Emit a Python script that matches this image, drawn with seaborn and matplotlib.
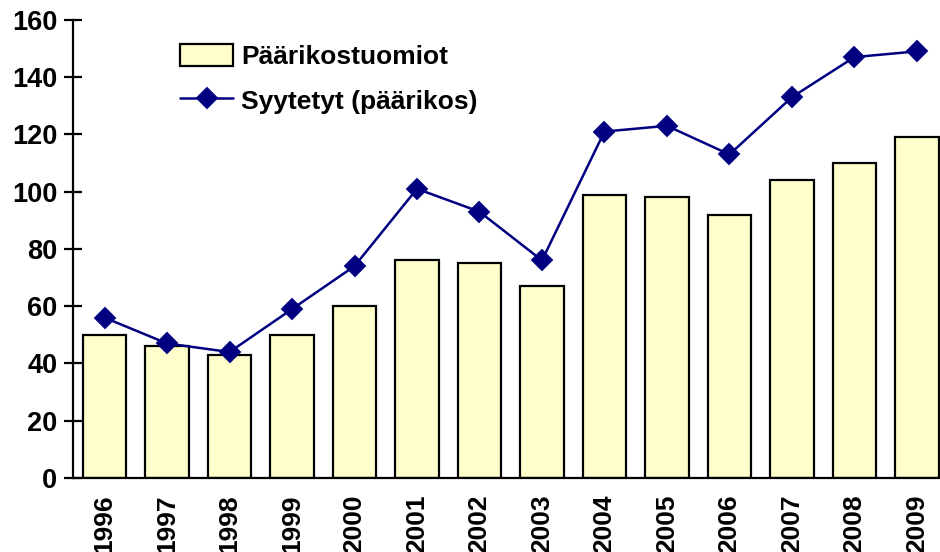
import numpy as np
import pandas as pd
import matplotlib
matplotlib.use('Agg')
import matplotlib.pyplot as plt
import seaborn as sns

# --- Data ---
years = ['1996', '1997', '1998', '1999', '2000', '2001', '2002',
         '2003', '2004', '2005', '2006', '2007', '2008', '2009']
tuomiot = [50, 46, 43, 50, 60, 76, 75, 67, 99, 98, 92, 104, 110, 119]
syytetyt = [56, 47, 44, 59, 74, 101, 93, 76, 121, 123, 113, 133, 147, 149]

df = pd.DataFrame({'year': years, 'tuomiot': tuomiot, 'syytetyt': syytetyt})

sns.set_style('white')
plt.rcParams['font.family'] = ['Liberation Sans', 'DejaVu Sans']
plt.rcParams['font.weight'] = 'bold'
plt.rcParams['text.color'] = 'black'
plt.rcParams['xtick.color'] = 'black'
plt.rcParams['ytick.color'] = 'black'

fig = plt.figure(figsize=(9.4, 5.52), dpi=100)
ax = fig.add_axes([0.078, 0.134, 0.922, 0.83])

sns.barplot(data=df, x='year', y='tuomiot', ax=ax, color='#FFFFCC',
            edgecolor='black', linewidth=1.6, width=0.7, saturation=1,
            label='Päärikostuomiot')
sns.pointplot(data=df, x='year', y='syytetyt', ax=ax, color='#000080',
              markers='D', linestyles='-', markersize=10, linewidth=1.8,
              label='Syytetyt (päärikos)')

ax.set_xlim(-0.5, 13.37)
ax.set_ylim(0, 160)
ax.set_yticks(range(0, 161, 20))
ax.set_xlabel('')
ax.set_ylabel('')

for s in ['top', 'right']:
    ax.spines[s].set_visible(False)
for s in ['left', 'bottom']:
    ax.spines[s].set_linewidth(1.6)
    ax.spines[s].set_color('black')

ax.tick_params(axis='y', direction='inout', length=13, width=1.6,
               labelsize=19.5, pad=5, left=True, labelcolor='black')
ax.tick_params(axis='x', length=0, labelsize=19, pad=12, rotation=90,
               labelcolor='black')
for lab in ax.get_xticklabels() + ax.get_yticklabels():
    lab.set_fontweight('bold')

handles, labels = ax.get_legend_handles_labels()
order = [labels.index('Päärikostuomiot'), labels.index('Syytetyt (päärikos)')]
leg = ax.legend([handles[i] for i in order], [labels[i] for i in order],
                loc='upper left', bbox_to_anchor=(0.096, 1.0),
                frameon=False, fontsize=19, handlelength=2.0,
                handleheight=0.9, labelspacing=0.75, handletextpad=0.3)
for t in leg.get_texts():
    t.set_fontweight('bold')
    t.set_color('black')

fig.savefig('out.png', dpi=100)
